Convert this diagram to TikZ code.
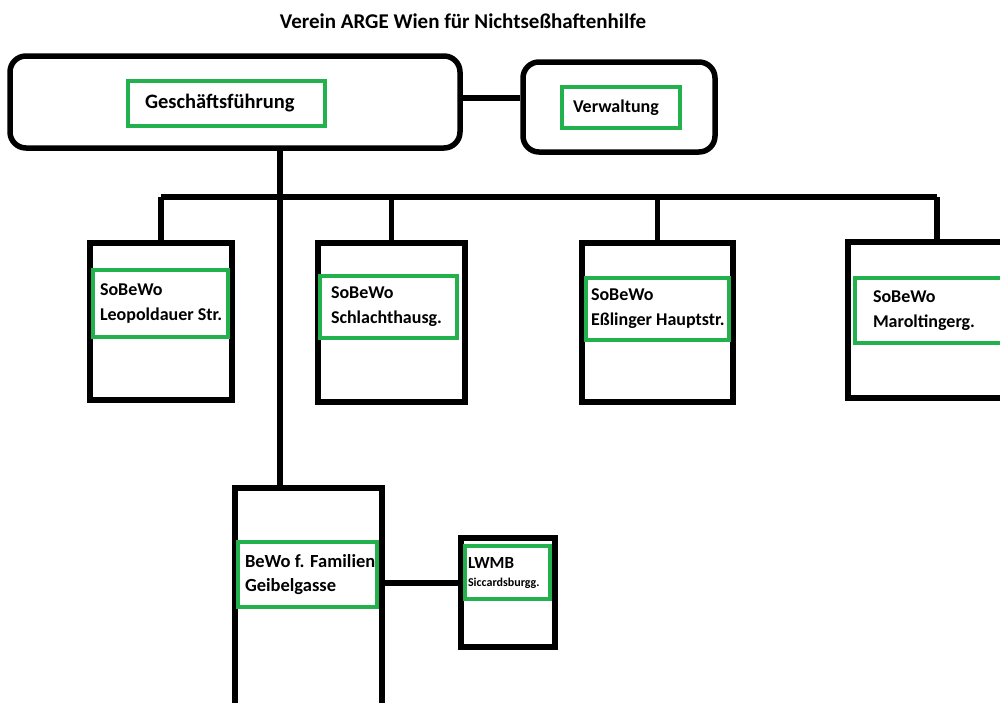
\documentclass[tikz,border=0pt]{standalone}
\usepackage{fontspec}
\setmainfont{Carlito}
\usetikzlibrary{positioning}
\definecolor{paintgreen}{RGB}{34,177,76}
\tikzset{frame/.style 2 args={ % black outer box of a unit
           draw, line width=5.5pt,
           minimum width=#1, minimum height=#2},
         tag/.style={         % green box with the unit name
           draw=paintgreen, line width=4.5pt,
           align=flush left, inner ysep=0pt},
         every edge/.style={  % all links
           draw, line width=5.5pt}}

\begin{document}
\begin{tikzpicture}[x=1pt,y=-1pt]
\useasboundingbox (0,0) rectangle (1000,702);
\clip (0,0) rectangle (1000,702);

\node (title) at (463,21) {\bfseries\fontsize{21}{24}\selectfont Verein ARGE Wien für Nichtseßhaftenhilfe};

\begin{scope}[every node/.style={}]
    \node[frame={450pt}{92pt}, rounded corners=16pt] (GF) at (235,102) {};
    \node[frame={192pt}{90pt}, rounded corners=16pt] (VW) at (619,107) {};
    \node[frame={142pt}{157pt}] (S1) at (161,321.5) {};
    \node[frame={147pt}{159pt}] (S2) at (391.5,322.5) {};
    \node[frame={151pt}{159pt}] (S3) at (657.5,322.5) {};
    \node[frame={178pt}{156pt}] (S4) at (937,320) {};
    \node[frame={147pt}{224pt}] (BW) at (308.5,600) {};
    \node[frame={94pt}{109pt}] (LW) at (508,592.5) {};
\end{scope}

\begin{scope}[every node/.style={tag, font=\bfseries\fontsize{18}{25}\selectfont}]
    \node[text width=163pt, inner xsep=17pt, minimum height=45pt, font=\bfseries\fontsize{20.5}{24}\selectfont] (GFt) at (226.5,103.5) {Geschäftsführung};
    \node[text width=96pt, inner xsep=11pt, minimum height=41pt] (VWt) at (621,107.5) {Verwaltung};
    \node[text width=121pt, inner xsep=7pt, minimum height=67pt] (S1t) at (160.5,303.5) {SoBeWo\\\mbox{Leopoldauer Str.}};
    \node[text width=115pt, inner xsep=11pt, minimum height=62pt] (S2t) at (388.5,307) {SoBeWo\\\mbox{Schlachthausg.}};
    \node[text width=133pt, inner xsep=5pt, minimum height=62pt] (S3t) at (657.5,309) {SoBeWo\\\mbox{Eßlinger Hauptstr.}};
    \node[text width=124pt, inner xsep=18pt, minimum height=65pt] (S4t) at (935,310.5) {SoBeWo\\\mbox{Maroltingerg.}};
    \node[text width=125pt, inner xsep=7pt, minimum height=65pt, font=\bfseries\fontsize{18.5}{24}\selectfont] (BWt) at (307.5,574.5) {\mbox{BeWo f. Familien}\\Geibelgasse};
    \node[text width=79pt, inner xsep=3pt, minimum height=53pt, font=\bfseries\fontsize{17}{20}\selectfont] (LWt) at (507.5,572.5) {LWMB\\[-2pt]{\fontsize{12}{14}\selectfont\mbox{Siccardsburgg.}}};
\end{scope}

\coordinate (bus) at (280,197);

\begin{scope}[line width=5.5pt]
    \path [-] (GF.east |- 0,98) edge (VW.west |- 0,98);
    \path [-] (GF.south -| bus) edge (BW.north -| bus);
    \path [-] (S1.north) edge (S1.north |- bus);
    \path [-] (S2.north) edge (S2.north |- bus);
    \path [-] (S3.north) edge (S3.north |- bus);
    \path [-] (S4.north) edge (S4.north |- bus);
    \path [-] (S1.north |- bus) edge (S4.north |- bus);
    \path [-] (BW.east |- 0,583) edge (LW.west |- 0,583);
\end{scope}
\end{tikzpicture}
\end{document}
